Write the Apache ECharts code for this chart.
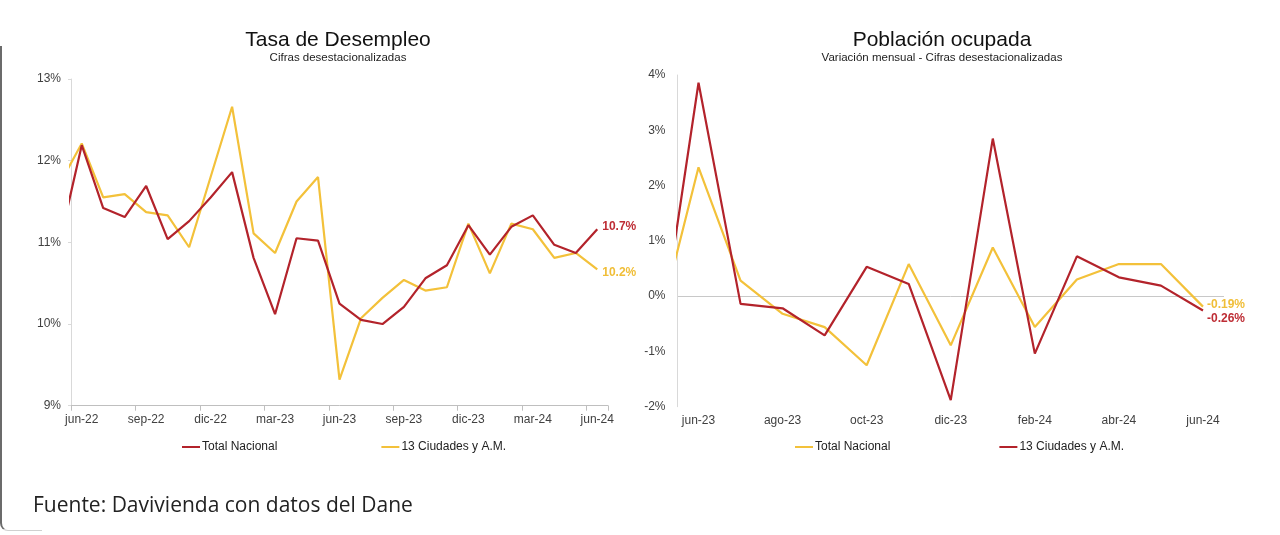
<!DOCTYPE html>
<html>
<head>
<meta charset="utf-8">
<script src="https://cdn.jsdelivr.net/npm/echarts@6/dist/echarts.min.js"></script>
<style>
html,body{margin:0;padding:0;background:#fff;width:1280px;height:535px;overflow:hidden;}
#left{position:absolute;left:0;top:0;width:640px;height:535px;}
#right{position:absolute;left:640px;top:0;width:640px;height:535px;}
#frame{position:absolute;left:0;top:46px;width:40px;height:484px;border-left:2px solid #6b6b6b;border-bottom:1px solid #d0d0d0;border-bottom-left-radius:8px;}
#src{position:absolute;left:33px;top:490px;font-family:"Open Sans","Noto Sans",sans-serif;font-size:21px;color:#222;}
</style>
</head>
<body>
<div id="frame"></div>
<div id="left"></div>
<div id="right"></div>
<div id="src">Fuente: Davivienda con datos del Dane</div>
<script>
// ---- Data ----
const monthsLeft = ['may-22','jun-22','jul-22','ago-22','sep-22','oct-22','nov-22','dic-22','ene-23','feb-23','mar-23','abr-23','may-23','jun-23','jul-23','ago-23','sep-23','oct-23','nov-23','dic-23','ene-24','feb-24','mar-24','abr-24','may-24','jun-24'];
const desempleoTotal = [11.03,12.19,11.42,11.31,11.69,11.04,11.26,11.55,11.86,10.81,10.12,11.05,11.02,10.25,10.05,10.00,10.21,10.56,10.72,11.21,10.85,11.19,11.33,10.97,10.87,11.16];
const desempleo13 = [11.73,12.21,11.55,11.59,11.37,11.33,10.94,11.80,12.66,11.11,10.87,11.50,11.80,9.32,10.07,10.32,10.54,10.41,10.45,11.23,10.62,11.23,11.16,10.81,10.87,10.67];
const leftTickLabels = ['jun-22','sep-22','dic-22','mar-23','jun-23','sep-23','dic-23','mar-24','jun-24'];
const leftEndLabels = ['10.7%','10.2%'];

const monthsRight = ['may-23','jun-23','jul-23','ago-23','sep-23','oct-23','nov-23','dic-23','ene-24','feb-24','mar-24','abr-24','may-24','jun-24'];
const ocupadaTotal = [-0.69,2.33,0.28,-0.32,-0.56,-1.25,0.58,-0.89,0.88,-0.56,0.30,0.58,0.58,-0.19];
const ocupada13 = [-1.24,3.86,-0.14,-0.22,-0.71,0.53,0.22,-1.88,2.85,-1.04,0.72,0.34,0.19,-0.26];
const rightTickLabels = ['jun-23','ago-23','oct-23','dic-23','feb-24','abr-24','jun-24'];
const rightEndLabels = ['-0.19%','-0.26%'];

const seriesNames = ['Total Nacional','13 Ciudades y A.M.'];

// ---- Style ----
const RED = '#B3232B';
const YEL = '#F3C13A';
const FONT = '"Liberation Sans", Arial, sans-serif';
const AXC = '#404040';

function pairs(arr){ return arr.map((v,i)=>[i,v]); }
function idxOf(months, labels){ return labels.map(l=>months.indexOf(l)); }

function titleGraphics(cx, title, sub){
  return [
    {type:'text', x:cx, y:40, style:{text:title, textAlign:'center', textVerticalAlign:'middle', verticalAlign:'middle', fontSize:21, fontFamily:FONT, fill:'#111'}},
    {type:'text', x:cx, y:58, style:{text:sub, textAlign:'center', textVerticalAlign:'middle', verticalAlign:'middle', fontSize:11.5, fontFamily:FONT, fill:'#222'}}
  ];
}

const legendText = {fontFamily:FONT, fontSize:12, color:'#222', padding:[0,0,0,-3]};

// ---- Left chart ----
const leftChart = echarts.init(document.getElementById('left'), null, {renderer:'canvas'});
const leftLabelIdx = idxOf(monthsLeft, leftTickLabels);
const leftTickIdx = leftLabelIdx.map(i=>i-0.5);
leftChart.setOption({
  animation:false,
  graphic: titleGraphics(338, 'Tasa de Desempleo', 'Cifras desestacionalizadas'),
  legend:{
    data:[seriesNames[0], seriesNames[1]],
    left:177, top:436, icon:'rect', itemWidth:18, itemHeight:2, itemGap:104,
    textStyle:legendText
  },
  grid:{left:71, right:32, top:79, bottom:129.3},
  xAxis:{
    type:'value', min:0.5, max:monthsLeft.length-0.5,
    splitLine:{show:false},
    axisLine:{show:true, lineStyle:{color:'#bfbfbf', width:1}},
    axisTick:{show:true, customValues:leftTickIdx.concat([monthsLeft.length-0.5]), length:5, lineStyle:{color:'#bfbfbf'}},
    axisLabel:{customValues:leftLabelIdx, formatter:v=>monthsLeft[Math.round(v)], fontFamily:FONT, fontSize:12, color:AXC, margin:8}
  },
  yAxis:{
    type:'value', min:9, max:13, interval:1,
    splitLine:{show:false},
    axisLine:{show:true, lineStyle:{color:'#d9d9d9'}},
    axisTick:{show:true, length:3, lineStyle:{color:'#d9d9d9'}},
    axisLabel:{formatter:v=>v+'%', fontFamily:FONT, fontSize:12, color:AXC, margin:10}
  },
  series:[
    {name:seriesNames[0], type:'line', data:pairs(desempleoTotal), showSymbol:false, symbol:'none', clip:true,
     color:RED, lineStyle:{color:RED, width:2.2}, z:3,
     endLabel:{show:true, formatter:()=>leftEndLabels[0], color:'#BE2D35', fontFamily:FONT, fontSize:12, fontWeight:'bold', offset:[0,-3], distance:5}},
    {name:seriesNames[1], type:'line', data:pairs(desempleo13), showSymbol:false, symbol:'none', clip:true,
     color:YEL, lineStyle:{color:YEL, width:2.2}, z:2,
     endLabel:{show:true, formatter:()=>leftEndLabels[1], color:'#F0BE38', fontFamily:FONT, fontSize:12, fontWeight:'bold', offset:[0,3], distance:5}}
  ]
});

// ---- Right chart ----
const rightChart = echarts.init(document.getElementById('right'), null, {renderer:'canvas'});
const rightLabelIdx = idxOf(monthsRight, rightTickLabels);
rightChart.setOption({
  animation:false,
  graphic: titleGraphics(302, 'Población ocupada', 'Variación mensual - Cifras desestacionalizadas'),
  legend:{
    data:[seriesNames[0], seriesNames[1]],
    left:150, top:436, icon:'rect', itemWidth:18, itemHeight:2, itemGap:109,
    textStyle:legendText
  },
  grid:{left:37.5, right:56, top:75, bottom:128.3},
  xAxis:{
    type:'value', min:0.5, max:monthsRight.length-0.5,
    splitLine:{show:false},
    axisLine:{show:false},
    axisTick:{show:false},
    axisLabel:{customValues:rightLabelIdx, formatter:v=>monthsRight[Math.round(v)], fontFamily:FONT, fontSize:12, color:AXC, margin:8}
  },
  yAxis:{
    type:'value', min:-2, max:4, interval:1,
    splitLine:{show:true, lineStyle:{color:['transparent','transparent','#c8c8c8','transparent','transparent','transparent','transparent'], width:1}},
    axisLine:{show:true, lineStyle:{color:'#d9d9d9'}},
    axisTick:{show:false},
    axisLabel:{formatter:v=>v+'%', fontFamily:FONT, fontSize:12, color:AXC, margin:12}
  },
  series:[
    {name:seriesNames[0], type:'line', data:pairs(ocupadaTotal), showSymbol:false, symbol:'none', clip:true,
     color:YEL, lineStyle:{color:YEL, width:2.2}, z:2,
     endLabel:{show:true, formatter:()=>rightEndLabels[0], color:'#F0BE38', fontFamily:FONT, fontSize:12, fontWeight:'bold', offset:[0,-2], distance:4}},
    {name:seriesNames[1], type:'line', data:pairs(ocupada13), showSymbol:false, symbol:'none', clip:true,
     color:RED, lineStyle:{color:RED, width:2.2}, z:3,
     endLabel:{show:true, formatter:()=>rightEndLabels[1], color:'#BE2D35', fontFamily:FONT, fontSize:12, fontWeight:'bold', offset:[0,8], distance:4}}
  ]
});
</script>
</body>
</html>
